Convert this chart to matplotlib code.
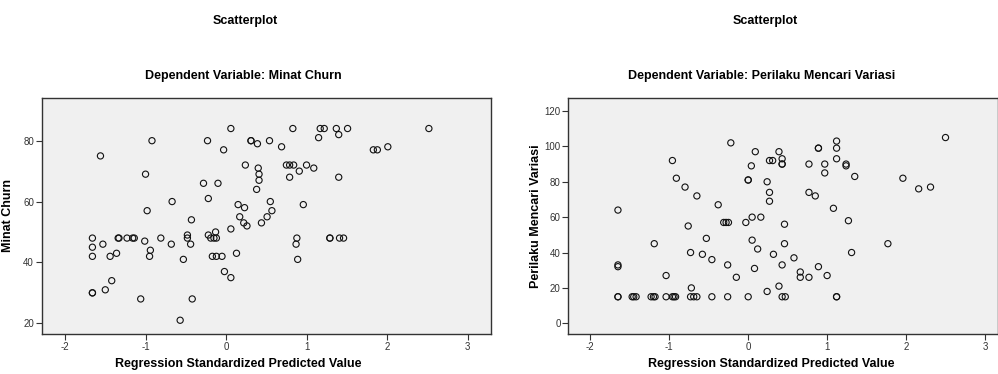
import matplotlib
matplotlib.use("Agg")
import matplotlib.pyplot as plt

plt.rcParams['font.family'] = ['Liberation Sans', 'DejaVu Sans']
plt.rcParams['axes.unicode_minus'] = False

# Left chart: Minat Churn
x_churn = [0.06, -0.92, -0.23, 0.31, 0.31, -1.56, -0.03, 0.24, -1.00, -0.28, -0.10, -0.22, -0.67,
           0.15, 0.23, -0.98, 0.17, -0.43, 0.22, 0.26, 0.06, -0.13, -0.48, -0.22, -1.66, -1.34,
           -1.33, -1.23, -1.16, -1.14, -0.81, -0.48, -0.19, -0.15, -0.12, -1.01, -1.53, -0.68,
           -0.44, -1.66, -0.94, -1.36, 0.13, -1.66, -1.44, -0.95, -0.17, -0.12, -0.05, -0.53,
           -0.02, 0.06, -1.42, -1.50, -1.66, -1.66, -1.06, -0.42, -0.57,
           0.83, 1.17, 1.22, 1.37, 1.51, 2.52, 1.15, 1.40, 0.39, 0.54, 0.69, 1.83, 1.88, 2.01,
           0.75, 0.79, 0.84, 1.00, 1.09, 0.40, 0.41, 0.41, 0.91, 0.79, 1.40, 0.38, 0.55, 0.96,
           0.57, 0.51, 0.44, 0.88, 0.87, 0.89, 1.29, 1.29, 1.41, 1.46]
y_churn = [84, 80, 80, 80, 80, 75, 77, 72, 69, 66, 66, 61, 60,
           59, 58, 57, 55, 54, 53, 52, 51, 50, 49, 49, 48, 48,
           48, 48, 48, 48, 48, 48, 48, 48, 48, 47, 46, 46,
           46, 45, 44, 43, 43, 42, 42, 42, 42, 42, 42, 41,
           37, 35, 34, 31, 30, 30, 28, 28, 21,
           84, 84, 84, 84, 84, 84, 81, 82, 79, 80, 78, 77, 77, 78,
           72, 72, 72, 72, 71, 71, 69, 67, 70, 68, 68, 64, 60, 59,
           57, 55, 53, 48, 46, 41, 48, 48, 48, 48]

# Right chart: Perilaku Mencari Variasi
x_var = [-1.65, -1.65, -1.65, -1.65, -1.65, -1.47, -1.45, -1.42, -1.23, -1.20, -1.18, -1.04,
         -0.96, -0.94, -0.92, -0.73, -0.69, -0.65, -0.46, -0.26, 0.00, -1.19, -1.04, -0.96,
         -0.91, -0.80, -0.65, -0.76, -0.53, -0.73, -0.58, -0.46, -0.72, -0.38, -0.31, -0.28,
         -0.25, -0.26, -0.15, -0.22, 0.09, 0.04, 0.00, 0.00, -0.03, 0.05, 0.16, 0.05, 0.12, 0.08,
         0.24, 0.27, 0.31, 0.39, 0.43, 0.43, 0.43, 0.27, 0.27, 0.77, 0.89, 0.89, 0.97, 0.97,
         1.12, 1.12, 1.12, 1.24, 1.24, 1.35, 0.77, 0.85, 1.08, 0.46, 1.27, 0.46, 1.31, 1.77,
         1.96, 2.16, 2.31, 2.50, 0.32, 0.43, 0.58, 0.66, 0.66, 0.77, 0.89, 1.00, 0.24, 0.39,
         0.43, 0.47, 1.12, 1.12]
y_var = [64, 33, 32, 15, 15, 15, 15, 15, 15, 15, 15, 15,
         15, 15, 15, 15, 15, 15, 15, 15, 15, 45, 27, 92,
         82, 77, 72, 55, 48, 40, 39, 36, 20, 67, 57, 57,
         57, 33, 26, 102, 97, 89, 81, 81, 57, 60, 60, 47, 42, 31,
         80, 92, 92, 97, 93, 90, 90, 74, 69, 90, 99, 99, 90, 85,
         103, 99, 93, 90, 89, 83, 74, 72, 65, 56, 58, 45, 40, 45,
         82, 76, 77, 105, 39, 33, 37, 29, 26, 26, 32, 27, 18, 21,
         15, 15, 15, 15]

x_ticks = [-2, -1, 0, 1, 2, 3]
y_ticks_churn = [20, 40, 60, 80]
y_ticks_var = [0, 20, 40, 60, 80, 100, 120]

W, H = 998, 374
fig = plt.figure(figsize=(W / 100, H / 100), dpi=100)

def px_axes(l, t, r, b):
    return fig.add_axes([l / W, 1 - b / H, (r - l) / W, (b - t) / H])

ax1 = px_axes(41.7, 98, 490.7, 334)
ax2 = px_axes(568.3, 98, 998, 334)

def style(ax, xs, ys, xlim, ylim, yticks, ylabel):
    ax.set_facecolor('#f0f0f0')
    ax.scatter(xs, ys, s=20, facecolors='none', edgecolors='#111111', linewidths=0.8, zorder=3)
    ax.set_xlim(*xlim)
    ax.set_ylim(*ylim)
    ax.set_xticks(x_ticks)
    ax.set_yticks(yticks)
    ax.tick_params(direction='out', length=4, width=0.8, color='#333333',
                   labelsize=7, labelcolor='#333333', pad=1.5)
    for side in ['left', 'bottom', 'top', 'right']:
        ax.spines[side].set_color('#333333')
        ax.spines[side].set_linewidth(1.0)
    ax.set_ylabel(ylabel, fontsize=9, fontweight='bold', labelpad=4)

style(ax1, x_churn, y_churn, (-2.29, 3.288), (16.48, 94.03), y_ticks_churn, 'Minat Churn')
style(ax2, x_var, y_var, (-2.279, 3.165), (-6.05, 127.35), y_ticks_var, 'Perilaku Mencari Variasi')

ax1.yaxis.set_label_coords(14 / W, 0.5, transform=fig.transFigure)
ax2.yaxis.set_label_coords(541.7 / W, 0.5, transform=fig.transFigure)
ax1.yaxis.label.set_y(1 - 216 / H)
ax2.yaxis.label.set_y(1 - 216 / H)

fig.text(245.5 / W, 1 - 20.7 / H, 'Scatterplot', ha='center', va='center', fontsize=9, fontweight='bold')
fig.text(765 / W, 1 - 20.7 / H, 'Scatterplot', ha='center', va='center', fontsize=9, fontweight='bold')
fig.text(243.7 / W, 1 - 76 / H, 'Dependent Variable: Minat Churn', ha='center', va='center',
         fontsize=9, fontweight='bold')
fig.text(761.7 / W, 1 - 76 / H, 'Dependent Variable: Perilaku Mencari Variasi', ha='center', va='center',
         fontsize=9, fontweight='bold')
fig.text(238 / W, 1 - 364 / H, 'Regression Standardized Predicted Value', ha='center', va='center',
         fontsize=9, fontweight='bold')
fig.text(771 / W, 1 - 364 / H, 'Regression Standardized Predicted Value', ha='center', va='center',
         fontsize=9, fontweight='bold')

fig.savefig('out.png', dpi=100)
